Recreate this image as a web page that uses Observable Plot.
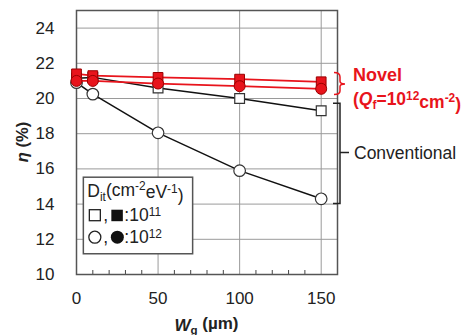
<!DOCTYPE html>
<html><head><meta charset="utf-8">
<script src="https://cdn.jsdelivr.net/npm/d3@7"></script>
<script src="https://cdn.jsdelivr.net/npm/@observablehq/plot@0.6"></script>
<style>body{margin:0;background:#fff} svg{display:block}</style>
</head><body><div id="chart"></div>
<script>
const wg = [0, 10, 50, 100, 150];
const convSquare = [21.15, 21.2, 20.6, 20.0, 19.3];
const convCircle = [20.9, 20.25, 18.05, 15.9, 14.3];
const novelSquare = [21.4, 21.3, 21.2, 21.1, 20.95];
const novelCircle = [21.0, 21.0, 20.85, 20.7, 20.55];
const xTicks = [0, 50, 100, 150];
const xMinorTicks = [10, 20, 30, 40, 60, 70, 80, 90, 110, 120, 130, 140];
const yTicks = [10, 12, 14, 16, 18, 20, 22, 24];

const rows = (ys) => wg.map((x, i) => ({x, y: ys[i]}));
const cs = rows(convSquare), cc = rows(convCircle), ns = rows(novelSquare), nc = rows(novelCircle);

const FONT = "'Liberation Sans', Arial, Helvetica, sans-serif";
const RED = "#e8141c", DARKRED = "#9a0000";

const plot = Plot.plot({
  width: 468, height: 335,
  marginLeft: 76, marginRight: 131, marginTop: 10, marginBottom: 61,
  style: {fontFamily: FONT, fontSize: "17px", color: "#222", background: "#fff"},
  x: {domain: [0, 160], label: null},
  y: {domain: [10, 25], label: null},
  marks: [
    Plot.gridX(xTicks.slice(1), {stroke: "#9a9a9a", strokeOpacity: 1}),
    Plot.gridY(yTicks.slice(1), {stroke: "#9a9a9a", strokeOpacity: 1}),
    Plot.axisX(xMinorTicks, {tickSize: -4, text: null, stroke: "#444"}),
    Plot.axisX(xTicks, {tickSize: 0, tickPadding: 17, fill: "#222"}),
    Plot.axisY(yTicks, {tickSize: 0, tickPadding: 22, fill: "#222"}),
    Plot.frame({stroke: "#555", strokeWidth: 1.5}),
    Plot.line(cs, {x: "x", y: "y", stroke: "#111", strokeWidth: 1.5}),
    Plot.line(cc, {x: "x", y: "y", stroke: "#111", strokeWidth: 1.5}),
    Plot.dot(cs, {x: "x", y: "y", symbol: "square", r: 5.5, fill: "#fff", stroke: "#333", strokeWidth: 1.2}),
    Plot.dot(cc, {x: "x", y: "y", symbol: "circle", r: 5.8, fill: "#fff", stroke: "#333", strokeWidth: 1.2}),
    Plot.line(ns, {x: "x", y: "y", stroke: RED, strokeWidth: 1.8}),
    Plot.line(nc, {x: "x", y: "y", stroke: RED, strokeWidth: 1.8}),
    Plot.dot(ns, {x: "x", y: "y", symbol: "square", r: 5.5, fill: RED, stroke: DARKRED, strokeWidth: 1}),
    Plot.dot(nc, {x: "x", y: "y", symbol: "circle", r: 5.5, fill: RED, stroke: DARKRED, strokeWidth: 1})
  ]
});

document.getElementById("chart").append(plot);

const sx = plot.scale("x"), sy = plot.scale("y");
const X = (v) => sx.apply(v), Y = (v) => sy.apply(v);
const svg = d3.select(plot);
const g = svg.append("g").attr("font-family", FONT).attr("text-anchor", "start");

function rich(sel, parts) {
  parts.forEach(p => {
    const t = sel.append("tspan").text(p.t);
    if (p.sub) t.attr("font-size", "0.68em").attr("dy", "0.3em");
    if (p.sup) t.attr("font-size", "0.68em").attr("dy", "-0.45em");
    if (p.back) t.attr("dy", p.back);
    if (p.italic) t.attr("font-style", "italic");
  });
  return sel;
}

// legend box
const lx0 = 4.5, lx1 = 71.5, ly0 = 15.5, ly1 = 11.15;
g.append("rect").attr("x", X(lx0)).attr("y", Y(ly0))
  .attr("width", X(lx1) - X(lx0)).attr("height", Y(ly1) - Y(ly0))
  .attr("fill", "#fff").attr("stroke", "#555").attr("stroke-width", 1.5);

let t1 = g.append("text").attr("x", X(lx0) + 4).attr("y", Y(14.35)).attr("font-size", 17.5).attr("fill", "#222");
rich(t1, [{t: "D"}, {t: "it", sub: true}, {t: "(cm", back: "-0.3em"}, {t: "-2", sup: true}, {t: "eV", back: "0.45em"}, {t: "-1", sup: true}, {t: ")", back: "0.45em"}]);

// legend symbol rows
const legRows = [{y: 13.0, sym: "square", label: "11"}, {y: 11.75, sym: "circle", label: "12"}];
legRows.forEach(r => {
  const cy = Y(r.y) - 6;
  const x0 = X(lx0) + 6;
  if (r.sym === "square") {
    g.append("rect").attr("x", x0).attr("y", cy - 5.5).attr("width", 11).attr("height", 11).attr("fill", "#fff").attr("stroke", "#222").attr("stroke-width", 1.3);
    g.append("rect").attr("x", x0 + 22).attr("y", cy - 5.5).attr("width", 11.5).attr("height", 11.5).attr("fill", "#111");
  } else {
    g.append("circle").attr("cx", x0 + 5.5).attr("cy", cy).attr("r", 6).attr("fill", "#fff").attr("stroke", "#222").attr("stroke-width", 1.3);
    g.append("circle").attr("cx", x0 + 28).attr("cy", cy).attr("r", 6.5).attr("fill", "#111");
  }
  g.append("text").attr("x", x0 + 14).attr("y", Y(r.y)).attr("font-size", 17.5).attr("fill", "#222").text(",");
  const tt = g.append("text").attr("x", x0 + 35).attr("y", Y(r.y)).attr("font-size", 17.5).attr("fill", "#222");
  rich(tt, [{t: ":10"}, {t: r.label, sup: true}]);
});

// axis titles
const yl = g.append("text").attr("transform", `translate(28,${(Y(10) + Y(25)) / 2}) rotate(-90)`)
  .attr("text-anchor", "middle").attr("font-size", 16.5).attr("font-weight", "bold").attr("fill", "#222");
rich(yl, [{t: "η", italic: true}, {t: " (%)"}]);

const xl = g.append("text").attr("x", (X(0) + X(160)) / 2).attr("y", 331)
  .attr("text-anchor", "middle").attr("font-size", 17).attr("font-weight", "bold").attr("fill", "#222");
rich(xl, [{t: "W", italic: true}, {t: "g", sub: true}, {t: " (µm)", back: "-0.3em"}]);

// annotations: brackets
const xr = X(160);
g.append("path").attr("d", `M${xr - 3},${Y(21.45)} Q${xr + 3},${Y(21.45)} ${xr + 3},${Y(21.2)} V${Y(20.95)} Q${xr + 3},${Y(20.8)} ${xr + 8},${Y(20.8)} Q${xr + 3},${Y(20.8)} ${xr + 3},${Y(20.65)} V${Y(20.4)} Q${xr + 3},${Y(20.2)} ${xr - 3},${Y(20.2)}`)
  .attr("fill", "none").attr("stroke", RED).attr("stroke-width", 1.5);
g.append("path").attr("d", `M${xr - 4},${Y(19.7)} H${xr + 3} V${Y(14.0)} H${xr - 4} M${xr + 3},${Y(16.9)} H${xr + 12}`)
  .attr("fill", "none").attr("stroke", "#222").attr("stroke-width", 1.5);

g.append("text").attr("x", xr + 16).attr("y", Y(20.9) - 1).attr("font-size", 18).attr("font-weight", "bold").attr("fill", RED).text("Novel");
const q = g.append("text").attr("x", xr + 16).attr("y", Y(19.6)).attr("font-size", 17.5).attr("font-weight", "bold").attr("fill", RED);
rich(q, [{t: "("}, {t: "Q", italic: true}, {t: "f", sub: true}, {t: "=10", back: "-0.2em"}, {t: "12", sup: true}, {t: "cm", back: "0.45em"}, {t: "-2", sup: true}, {t: ")", back: "0.45em"}]);
g.append("text").attr("x", xr + 17).attr("y", Y(16.9) + 6).attr("font-size", 17.5).attr("fill", "#222").text("Conventional");
</script>
</body></html>
